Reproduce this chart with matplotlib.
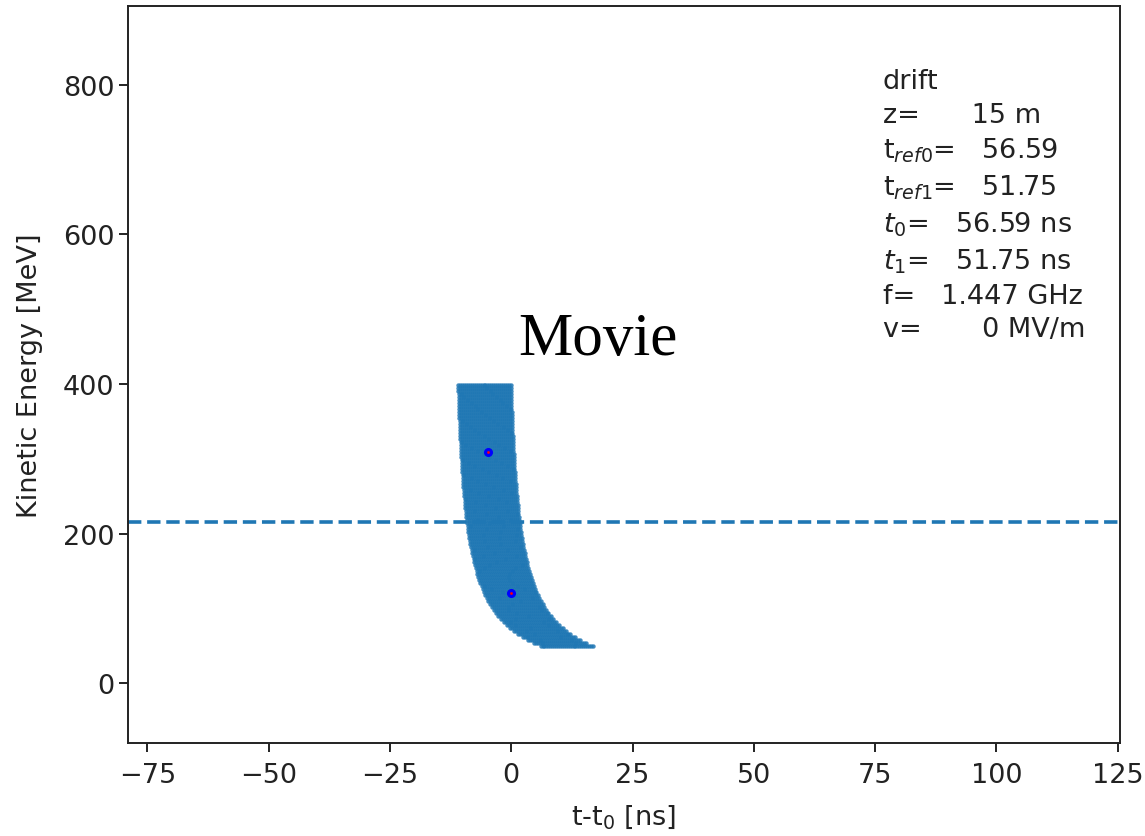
import numpy as np
import matplotlib
matplotlib.use("Agg")
import matplotlib.pyplot as plt

# drift parameters read from the annotation
z_drift = 15.0          # m
t_ref0 = 56.59          # ns
t_ref1 = 51.75          # ns
freq = 1.447            # GHz
volt = 0                # MV/m
mass = 105.658          # MeV, muon
c_light = 0.299792458   # m/ns

# initial particle grid: kinetic energies [MeV] and launch times [ns]
ke_grid = np.arange(50, 401, 4)
t_launch = np.arange(-5.5, 5.51, 0.4)

# reference particles (kinetic energy MeV)
ke_refs = [120.6, 309.0]
e_line = 215  # dashed reference energy


def flight_time(ke):
    gamma = 1 + np.asarray(ke) / mass
    beta = np.sqrt(1 - 1 / gamma**2)
    return z_drift / (beta * c_light)


ke_all, tl_all = np.meshgrid(ke_grid, t_launch)
ke_all = ke_all.ravel()
t_all = tl_all.ravel() + flight_time(ke_all) - t_ref0

fig = plt.figure(figsize=(11.45, 8.37), dpi=100)
ax = fig.add_axes([0.1118, 0.111, 0.8664, 0.8806])

ax.scatter(t_all, ke_all, s=10, c="C0", linewidths=0, alpha=0.85)
t_refs = flight_time(ke_refs) - t_ref0
ax.plot(t_refs, ke_refs, "bo", markersize=5.5)
ax.plot(t_refs, ke_refs, "r.", markersize=2)
ax.axhline(e_line, ls="--", color="C0", lw=2.6)

ax.set_xlim(-79, 125.5)
ax.set_ylim(-80, 905)
ax.set_xticks([-75, -50, -25, 0, 25, 50, 75, 100, 125])
ax.set_yticks([0, 200, 400, 600, 800])
ax.tick_params(labelsize=19.5, length=6.3, width=1.4, colors="#222222")
ax.tick_params(axis="x", pad=7.5)
for sp in ax.spines.values():
    sp.set_linewidth(1.4)
    sp.set_color("#222222")

ax.set_xlabel("t-t$_0$ [ns]", fontsize=19.5, labelpad=10, color="#222222")
ax.set_ylabel("Kinetic Energy [MeV]", fontsize=19.5, labelpad=14,
              color="#222222")

info = ("drift\n"
        f"z=      {z_drift:.0f} m\n"
        f"t$_{{ref0}}$=   {t_ref0:.2f}\n"
        f"t$_{{ref1}}$=   {t_ref1:.2f}\n"
        f"$t_0$=   {t_ref0:.2f} ns\n"
        f"$t_1$=   {t_ref1:.2f} ns\n"
        f"f=   {freq:.3f} GHz\n"
        f"v=       {volt} MV/m")
ax.text(0.761, 0.916, info, transform=ax.transAxes, va="top", ha="left",
        fontsize=19.5, linespacing=1.38, color="#222222")

fig.text(0.522, 0.594, "Movie", ha="center", va="center",
         family=["Liberation Serif", "DejaVu Serif"], fontsize=44)

fig.savefig("out.png", dpi=100)
